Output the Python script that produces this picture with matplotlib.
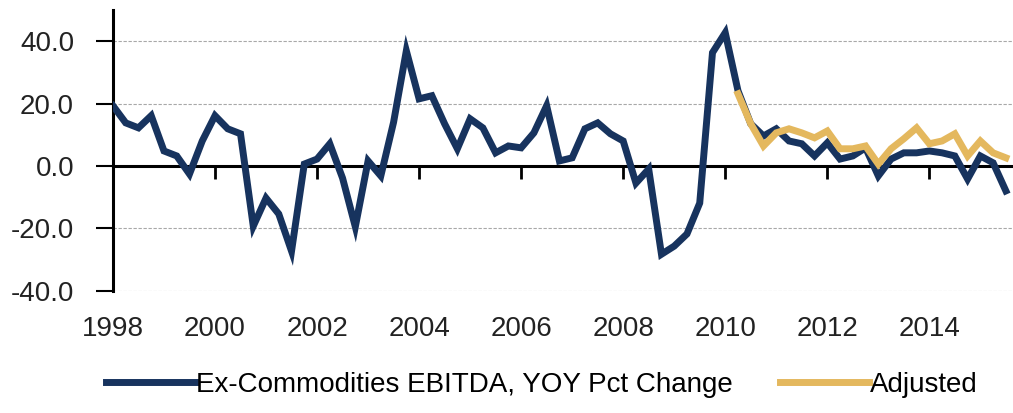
import numpy as np
import matplotlib.pyplot as plt
from matplotlib import font_manager

# quarterly, 1998Q1 .. 2015Q3
start_year = 1998
ebitda_yoy = [19.3, 13.8, 12.2, 16.1, 4.8, 3.2, -2.6, 8.0,
              16.1, 11.9, 10.3, -19.3, -10.3, -15.4, -27.3, 0.6,
              2.2, 7.1, -3.9, -19.5, 1.6, -3.2, 14.0, 36.9,
              21.5, 22.5, 13.5, 5.5, 15.1, 12.2, 4.2, 6.4,
              5.8, 10.6, 19.3, 1.6, 2.6, 11.9, 13.8, 10.3,
              8.0, -5.5, -1.0, -28.3, -25.7, -21.8, -11.9, 36.3,
              42.7, 24.1, 13.5, 9.6, 11.9, 8.0, 7.1, 3.2,
              7.4, 2.2, 3.2, 5.8, -3.2, 2.2, 4.2, 4.2,
              4.8, 4.2, 3.2, -4.2, 3.2, 1.0, -8.0]
adj_start = 49  # first quarter of the adjusted series (2010Q2)
adjusted = [23.1, 13.5, 6.4, 10.6, 11.9, 10.6, 9.0, 11.2,
            5.5, 5.5, 6.4, 0.6, 5.5, 8.7, 12.2, 7.1,
            8.0, 10.3, 3.2, 8.0, 4.2, 2.6]

year_ticks = [1998, 2000, 2002, 2004, 2006, 2008, 2010, 2012, 2014]
y_ticks = [-40, -20, 0, 20, 40]

navy = '#17335e'
gold = '#e4b85e'

# narrow face looks closer to the squeezed text in the original
names = set(f.name for f in font_manager.fontManager.ttflist)
if 'Liberation Sans Narrow' in names:
    plt.rcParams['font.family'] = ['Liberation Sans Narrow', 'DejaVu Sans']
    fs = 26
else:
    plt.rcParams['font.family'] = ['Liberation Sans', 'DejaVu Sans']
    fs = 20

t = start_year + np.arange(len(ebitda_yoy)) / 4.0
t_adj = start_year + (adj_start + np.arange(len(adjusted))) / 4.0

fig = plt.figure(figsize=(10.13, 4.13), dpi=100)
ax = fig.add_axes([0.1115, 0.296, 0.8875, 0.68])

ax.plot(t, ebitda_yoy, color=navy, lw=5, solid_joinstyle='miter',
        label='Ex-Commodities EBITDA, YOY Pct Change', zorder=3)
ax.plot(t_adj, adjusted, color=gold, lw=5, solid_joinstyle='miter',
        label='Adjusted', zorder=4)

ax.set_xlim(1998, 2015.62)
ax.set_ylim(-40, 50)

# gridlines
ax.set_yticks(y_ticks)
ax.set_yticklabels(['%.1f' % v for v in y_ticks], fontsize=fs, color='#222222')
ax.yaxis.grid(True, ls=(0, (3, 1.5)), color='#a8a8a8', lw=0.8)
ax.tick_params(axis='y', direction='out', length=12, width=1.5, pad=16)

# x axis sits on the zero line
ax.spines['bottom'].set_position(('data', 0))
ax.spines['bottom'].set_linewidth(2.2)
ax.spines['left'].set_linewidth(2.2)
ax.spines['top'].set_visible(False)
ax.spines['right'].set_visible(False)
ax.set_xticks(year_ticks)
ax.tick_params(axis='x', direction='out', length=9, width=2, labelbottom=False)

sec = ax.secondary_xaxis('bottom')
sec.set_xticks(year_ticks)
sec.set_xticklabels([str(y) for y in year_ticks], fontsize=fs, color='#222222')
sec.tick_params(length=0, pad=18)
sec.spines['bottom'].set_visible(False)

fig.legend(loc='center', bbox_to_anchor=(0.535, 0.068), ncol=2, frameon=False,
           fontsize=fs, handlelength=3.2 * 20 / fs, handletextpad=0.05,
           columnspacing=1.7 * 20 / fs)

fig.savefig('out.png', dpi=100)
